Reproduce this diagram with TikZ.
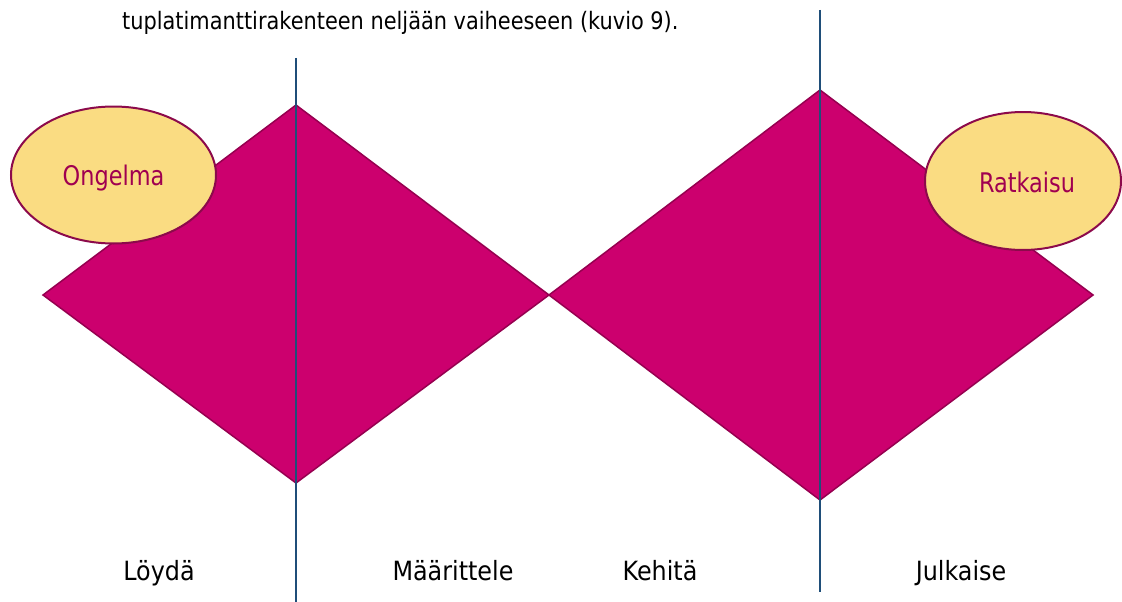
\documentclass[tikz,border=0pt]{standalone}
\usepackage{fontspec}
\setmainfont{DejaVu Sans}[FakeStretch=0.83]
\newfontfamily\capfont{DejaVu Sans}[FakeStretch=0.87]
\newfontfamily\labfont{DejaVu Sans}[FakeStretch=0.9]
\usetikzlibrary{shapes.geometric}
\definecolor{diamfill}{RGB}{204,0,110}
\definecolor{diamedge}{RGB}{150,0,80}
\definecolor{ellfill}{RGB}{250,220,130}
\definecolor{elledge}{RGB}{140,10,75}
\definecolor{elltext}{RGB}{160,0,80}
\definecolor{vline}{RGB}{31,78,121}
\tikzset{
  diam/.style={fill=diamfill,draw=diamedge,line width=1.5pt,line join=miter},
  phase/.style={draw=vline,line width=1.1pt},
  bubble/.style={ellipse,fill=ellfill,draw=elledge,line width=2pt,inner sep=0pt},
  btext/.style={inner sep=0pt,anchor=base,text=elltext,font=\fontsize{27}{30}\selectfont},
  lab/.style={inner sep=0pt,font=\labfont\fontsize{26.5}{30}\selectfont,text=black},
  captext/.style={inner sep=0pt,font=\capfont\fontsize{24}{28}\selectfont,text=black}
}
\begin{document}
\begin{tikzpicture}[x=1pt,y=-1pt]
\useasboundingbox (0,0) rectangle (1122,602);
% caption text
\node[captext,anchor=base west] (cap) at (122,29.5) {tuplatimanttirakenteen neljään vaiheeseen (kuvio 9).};
% diamonds
\coordinate (d1l) at (43,295);
\coordinate (d1t) at (296,105);
\coordinate (mid) at (549,295);
\coordinate (d1b) at (296,483);
\coordinate (d2t) at (820,90);
\coordinate (d2r) at (1093,295);
\coordinate (d2b) at (820,500);
\path[diam] (d1l) -- (d1t) -- (mid) -- (d1b) -- cycle;
\path[diam] (mid) -- (d2t) -- (d2r) -- (d2b) -- cycle;
% phase lines
\coordinate (v1a) at (296,58);
\coordinate (v1b) at (296,602);
\coordinate (v2a) at (820,10);
\coordinate (v2b) at (820,592);
\draw[phase] (v1a) -- (v1b);
\draw[phase] (v2a) -- (v2b);
% ellipses
\node[bubble,minimum width=205pt,minimum height=137pt] (ong) at (113.5,175) {};
\node[btext] (ongt) at (113.5,185) {Ongelma};
\node[bubble,minimum width=196pt,minimum height=138pt] (rat) at (1023,181) {};
\node[btext] (ratt) at (1027,192) {Ratkaisu};
% bottom labels
\node[lab,anchor=base] (l1) at (159,580) {Löydä};
\node[lab,anchor=base] (l2) at (453,580) {Määrittele};
\node[lab,anchor=base] (l3) at (660,580) {Kehitä};
\node[lab,anchor=base] (l4) at (961,580) {Julkaise};
\end{tikzpicture}
\end{document}
